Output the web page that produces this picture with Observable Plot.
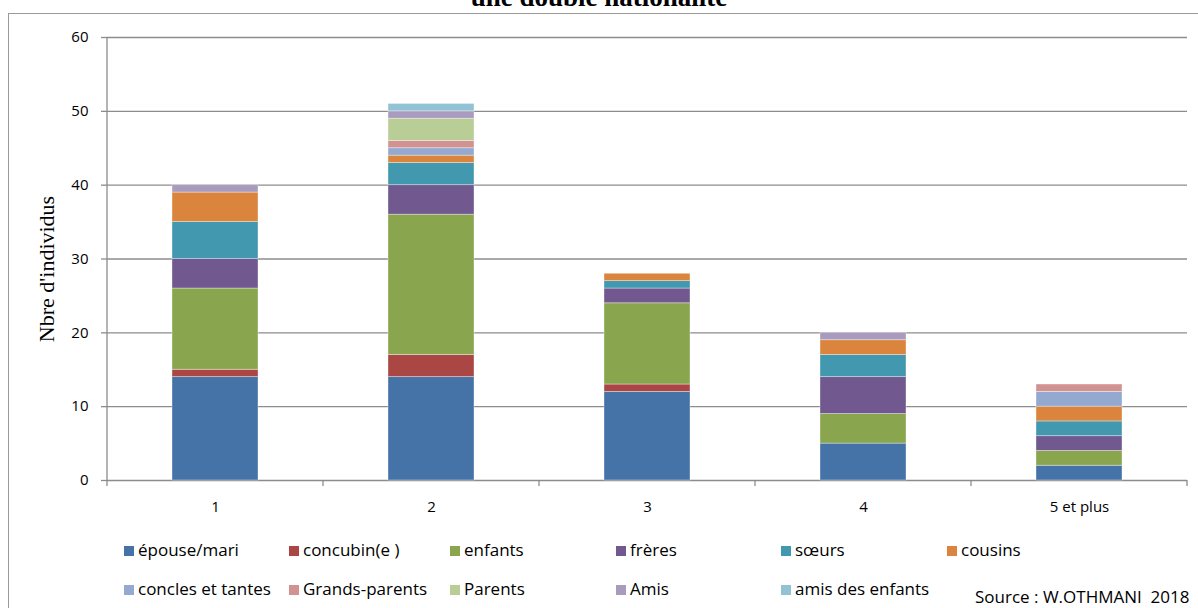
<!DOCTYPE html>
<html><head><meta charset="utf-8">
<script src="https://cdn.jsdelivr.net/npm/d3@7"></script>
<script src="https://cdn.jsdelivr.net/npm/@observablehq/plot@0.6"></script>
<style>
body{margin:0;width:1198px;height:608px;overflow:hidden;position:relative;background:#fff;font-family:"Open Sans",sans-serif;color:#000;}
#frame{position:absolute;left:8px;top:13px;width:1400px;height:800px;border:1.5px solid #9a9a9a;box-sizing:border-box;}
#title{position:absolute;left:0;width:1198px;top:-17px;text-align:center;font-family:"Liberation Serif","Times New Roman",serif;font-weight:bold;font-size:27px;line-height:28px;}
#chart{position:absolute;left:0;top:0;}
#ylabel{position:absolute;left:47px;top:269px;transform:translate(-50%,-50%) rotate(-90deg);font-family:"Liberation Serif","Times New Roman",serif;font-size:22px;white-space:nowrap;}
.lg{position:absolute;font-size:17px;white-space:nowrap;line-height:20px;}
.sw{position:absolute;width:10px;height:10px;}
#source{position:absolute;left:975px;top:587px;font-size:17px;white-space:pre;line-height:20px;}
</style></head><body>
<div id="frame"></div>
<div id="title">une double nationalité</div>
<div id="chart"></div>
<div id="ylabel">Nbre d'individus</div>
<div id="legend"></div>
<div id="source">Source : W.OTHMANI  2018</div>
<script>
const categories = ["1", "2", "3", "4", "5 et plus"];
const seriesNames = ["épouse/mari", "concubin(e )", "enfants", "frères", "sœurs", "cousins",
  "concles et tantes", "Grands-parents", "Parents", "Amis", "amis des enfants"];
const epouse        = [14, 14, 12, 5, 2];
const concubin      = [1, 3, 1, 0, 0];
const enfants       = [11, 19, 11, 4, 2];
const freres        = [4, 4, 2, 5, 2];
const soeurs        = [5, 3, 1, 3, 2];
const cousins       = [4, 1, 1, 2, 2];
const oncles        = [0, 1, 0, 0, 2];
const grandsParents = [0, 1, 0, 0, 1];
const parents       = [0, 3, 0, 0, 0];
const amis          = [1, 1, 0, 1, 0];
const amisEnfants   = [0, 1, 0, 0, 0];
const yTicks = [0, 10, 20, 30, 40, 50, 60];
const colors = ["#4572A7", "#AA4643", "#89A54E", "#71588F", "#4198AF", "#DB843D",
  "#93A9CF", "#D19392", "#B9CD96", "#A99BBD", "#92C3D5"];

const seriesValues = [epouse, concubin, enfants, freres, soeurs, cousins, oncles, grandsParents, parents, amis, amisEnfants];
const rows = [];
seriesNames.forEach((s, si) => categories.forEach((c, ci) => {
  const v = seriesValues[si][ci];
  if (v > 0) rows.push({cat: c, series: s, value: v});
}));

function extraAxes(index, scales, values, dims) {
  const x = scales.x, y = scales.y;
  const ns = "http://www.w3.org/2000/svg";
  const g = document.createElementNS(ns, "g");
  const bw = typeof x.bandwidth === "function" ? x.bandwidth() : 0;
  const step = typeof x.step === "function" ? x.step() : (x(categories[1]) - x(categories[0]));
  const edges = categories.map(c => x(c) - (step - bw) / 2);
  edges.push(x(categories[categories.length - 1]) + bw + (step - bw) / 2);
  const y0 = y(0), yTop = y(yTicks[yTicks.length - 1]);
  const add = (x1, y1, x2, y2) => {
    const l = document.createElementNS(ns, "line");
    l.setAttribute("x1", x1); l.setAttribute("y1", y1);
    l.setAttribute("x2", x2); l.setAttribute("y2", y2);
    l.setAttribute("stroke", "#8c8c8c"); l.setAttribute("stroke-width", 1.3);
    g.appendChild(l);
  };
  edges.forEach(e => add(e, y0, e, y0 + 6));
  add(edges[0], y0, edges[0], yTop);
  return g;
}

const chart = Plot.plot({
  width: 1198, height: 520,
  marginTop: 37, marginBottom: 40, marginLeft: 107, marginRight: 11,
  style: {fontFamily: "'Open Sans', sans-serif", fontSize: "15px", color: "#000", background: "transparent", overflow: "visible"},
  x: {domain: categories, paddingInner: 0.6, paddingOuter: 0.3, label: null},
  y: {domain: [0, 60], label: null},
  color: {domain: seriesNames, range: colors},
  marks: [
    Plot.ruleY(yTicks, {stroke: "#8c8c8c", strokeWidth: 1.3}),
    Plot.barY(rows, {x: "cat", y: "value", fill: "series", stroke: "#ffffff", strokeOpacity: 0.45, strokeWidth: 0.8}),
    Plot.axisY({ticks: yTicks, tickSize: 6, tickPadding: 13, stroke: "#8c8c8c", strokeWidth: 1.3, label: null, fill: "#000"}),
    Plot.axisX({tickSize: 0, tickPadding: 21, label: null, fill: "#000"}),
    extraAxes
  ]
});
document.getElementById("chart").appendChild(chart);

const legendPos = [
  [124, 551], [289, 551], [450, 551], [616, 551], [781, 551], [947, 551],
  [124, 590], [289, 590], [450, 590], [616, 590], [781, 590]
];
const legend = document.getElementById("legend");
seriesNames.forEach((s, i) => {
  const [lx, ly] = legendPos[i];
  const sw = document.createElement("div");
  sw.className = "sw";
  sw.style.left = lx + "px"; sw.style.top = (ly - 5) + "px";
  sw.style.background = colors[i];
  legend.appendChild(sw);
  const t = document.createElement("div");
  t.className = "lg";
  t.style.left = (lx + 14) + "px"; t.style.top = (ly - 11) + "px";
  t.textContent = s;
  legend.appendChild(t);
});
</script>
</body></html>
